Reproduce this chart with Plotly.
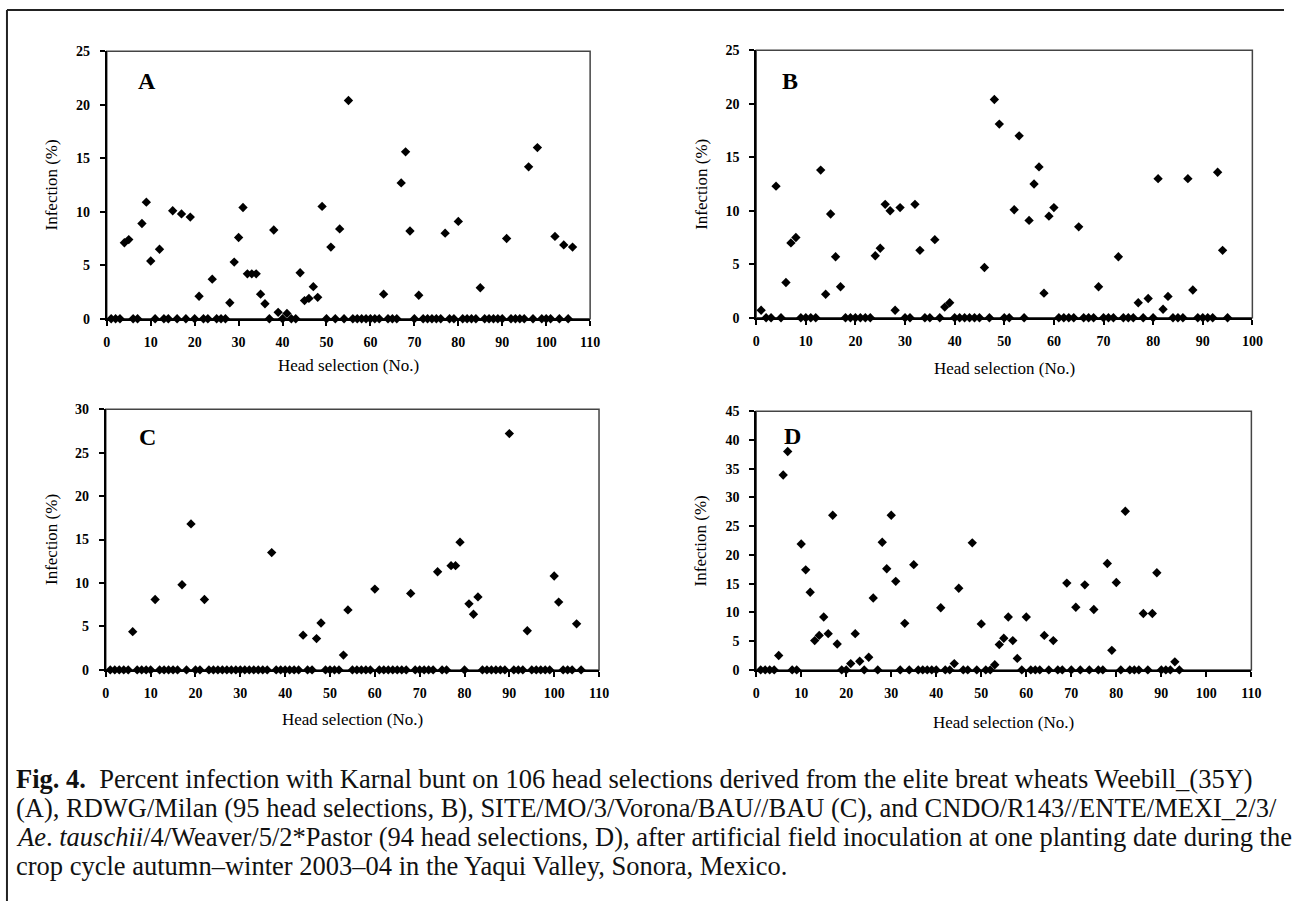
import plotly.graph_objects as go

W, H = 1295, 909

# ---------------- data (percent infection per head selection) ----------------
a_infection = [0, 0, 0, 7.1, 7.4, 0, 0, 8.9, 10.9, 5.4,
               0, 6.5, 0, 0, 10.1, 0, 9.8, 0, 9.5, 0,
               2.1, 0, 0, 3.7, 0, 0, 0, 1.5, 5.3, 7.6,
               10.4, 4.2, 4.2, 4.2, 2.3, 1.4, 0, 8.3, 0.6, 0,
               0.5, 0, 0, 4.3, 1.7, 1.9, 3.0, 2.0, 10.5, 0,
               6.7, 0, 8.4, 0, 20.4, 0, 0, 0, 0, 0,
               0, 0, 2.3, 0, 0, 0, 12.7, 15.6, 8.2, 0,
               2.2, 0, 0, 0, 0, 0, 8.0, 0, 0, 9.1,
               0, 0, 0, 0, 2.9, 0, 0, 0, 0, 0,
               7.5, 0, 0, 0, 0, 14.2, 0, 16.0, 0, 0,
               0, 7.7, 0, 6.9, 0, 6.7]

b_infection = [0.7, 0, 0, 12.3, 0, 3.3, 7.0, 7.5, 0, 0,
               0, 0, 13.8, 2.2, 9.7, 5.7, 2.9, 0, 0, 0,
               0, 0, 0, 5.8, 6.5, 10.6, 10.0, 0.7, 10.3, 0,
               0, 10.6, 6.3, 0, 0, 7.3, 0, 1.0, 1.4, 0,
               0, 0, 0, 0, 0, 4.7, 0, 20.4, 18.1, 0,
               0, 10.1, 17.0, 0, 9.1, 12.5, 14.1, 2.3, 9.5, 10.3,
               0, 0, 0, 0, 8.5, 0, 0, 0, 2.9, 0,
               0, 0, 5.7, 0, 0, 0, 1.4, 0, 1.8, 0,
               13.0, 0.8, 2.0, 0, 0, 0, 13.0, 2.6, 0, 0,
               0, 0, 13.6, 6.3, 0]

c_infection = [0, 0, 0, 0, 0, 4.4, 0, 0, 0, 0,
               8.1, 0, 0, 0, 0, 0, 9.8, 0, 16.8, 0,
               0, 8.1, 0, 0, 0, 0, 0, 0, 0, 0,
               0, 0, 0, 0, 0, 0, 13.5, 0, 0, 0,
               0, 0, 0, 4.0, 0, 0, 3.6, 5.4, 0, 0,
               0, 0, 1.7, 6.9, 0, 0, 0, 0, 0, 9.3,
               0, 0, 0, 0, 0, 0, 0, 8.8, 0, 0,
               0, 0, 0, 11.3, 0, 0, 12.0, 12.0, 14.7, 0,
               7.6, 6.4, 8.4, 0, 0, 0, 0, 0, 0, 27.2,
               0, 0, 0, 4.5, 0, 0, 0, 0, 0, 10.8,
               7.8, 0, 0, 0, 5.3, 0]

d_infection = [0, 0, 0, 0, 2.5, 33.9, 38.0, 0, 0, 21.9,
               17.4, 13.5, 5.1, 6.0, 9.2, 6.3, 26.9, 4.5, 0, 0,
               1.1, 6.3, 1.5, 0, 2.2, 12.5, 0, 22.2, 17.6, 26.9,
               15.4, 0, 8.1, 0, 18.3, 0, 0, 0, 0, 0,
               10.8, 0, 0, 1.1, 14.2, 0, 0, 22.1, 0, 8.0,
               0, 0, 0.9, 4.4, 5.5, 9.2, 5.1, 2.0, 0, 9.2,
               0, 0, 0, 6.0, 0, 5.1, 0, 0, 15.1, 0,
               10.9, 0, 14.8, 0, 10.5, 0, 0, 18.5, 3.4, 15.2,
               0, 27.6, 0, 0, 0, 9.8, 0, 9.8, 16.9, 0,
               0, 0, 1.4, 0]

panel_letters = ["A", "B", "C", "D"]
x_max = [110, 100, 110, 110]
y_max = [25, 25, 30, 45]
x_title = "Head selection (No.)"
y_title = "Infection (%)"

caption_lines = [
    "<b>Fig. 4.</b>  Percent infection with Karnal bunt on 106 head selections derived from the elite breat wheats Weebill_(35Y)",
    "(A), RDWG/Milan (95 head selections, B), SITE/MO/3/Vorona/BAU//BAU (C), and CNDO/R143//ENTE/MEXI_2/3/",
    "<i>Ae</i>. <i>tauschii</i>/4/Weaver/5/2*Pastor (94 head selections, D), after artificial field inoculation at one planting date during the",
    "crop cycle autumn\u2013winter 2003\u201304 in the Yaqui Valley, Sonora, Mexico.",
]

series = [a_infection, b_infection, c_infection, d_infection]

# ---------------- layout geometry (pixels) ----------------
boxes = [  # left, top, right, bottom
    (104, 45, 593, 317),
    (761, 44, 1263, 316),
    (103, 409, 602, 674),
    (761, 411, 1262, 674),
]
ytitle_x = [48, 705, 48, 705]
xtitle_y = [365, 368, 724, 727]
letter_pos = [(145, 75), (795, 75), (145, 437), (798, 436)]
caption_y = [785, 814.5, 844, 873.5]

def px(x):
    return x / W

def py(y):
    return 1 - y / H

SERIF = "Liberation Serif"

fig = go.Figure()
annotations = []
shapes = []

for i, vals in enumerate(series):
    n = i + 1
    xa = "x" if n == 1 else f"x{n}"
    ya = "y" if n == 1 else f"y{n}"
    sel = list(range(1, len(vals) + 1))
    fig.add_trace(go.Scatter(
        x=sel, y=vals, mode="markers", xaxis=xa, yaxis=ya,
        marker=dict(symbol="diamond", size=7.2, color="black"),
        cliponaxis=False, showlegend=False, hoverinfo="x+y",
    ))
    l, t, r, b = boxes[i]
    common = dict(
        showgrid=False, zeroline=False, showline=True, linecolor="black",
        linewidth=2, ticks="outside", ticklen=5, tickwidth=1.5,
        tickcolor="black", mirror=False, layer="above traces",
        tickfont=dict(family=SERIF, size=14, color="black", weight="bold"),
        fixedrange=True,
    )
    fig.layout[f"xaxis{'' if n == 1 else n}"] = dict(
        domain=[px(l), px(r)], range=[0, x_max[i]], dtick=10, tick0=0,
        anchor=ya, ticklabelstandoff=4, **common)
    fig.layout[f"yaxis{'' if n == 1 else n}"] = dict(
        domain=[py(b), py(t)], range=[0, y_max[i]], dtick=5, tick0=0,
        anchor=xa, ticklabelstandoff=7, **common)
    shapes.append(dict(type="rect", xref="paper", yref="paper",
                       x0=px(l), x1=px(r), y0=py(b), y1=py(t),
                       line=dict(color="#444", width=1.5), layer="below"))
    annotations.append(dict(text=y_title, x=px(ytitle_x[i]), y=py((t + b) / 2),
                            xref="paper", yref="paper", showarrow=False,
                            textangle=-90, xanchor="center", yanchor="middle",
                            font=dict(family=SERIF, size=17, color="black")))
    annotations.append(dict(text=x_title, x=px((l + r) / 2), y=py(xtitle_y[i]),
                            xref="paper", yref="paper", showarrow=False,
                            xanchor="center", yanchor="middle",
                            font=dict(family=SERIF, size=17, color="black")))
    lx, ly = letter_pos[i]
    annotations.append(dict(text=f"<b>{panel_letters[i]}</b>", x=px(lx), y=py(ly),
                            xref="paper", yref="paper", showarrow=False,
                            xanchor="center", yanchor="middle",
                            font=dict(family=SERIF, size=24, color="black")))

for k, line in enumerate(caption_lines):
    annotations.append(dict(text=line, x=px(10), y=py(caption_y[k]),
                            xref="paper", yref="paper", showarrow=False,
                            xanchor="left", yanchor="middle", align="left",
                            font=dict(family=SERIF, size=26.5, color="#111")))

# outer figure frame (left and top edges visible)
shapes.append(dict(type="line", xref="paper", yref="paper",
                   x0=px(3), x1=1, y0=py(3), y1=py(3),
                   line=dict(color="#222", width=2)))
shapes.append(dict(type="line", xref="paper", yref="paper",
                   x0=px(3), x1=px(3), y0=py(3), y1=0,
                   line=dict(color="#222", width=2)))

fig.update_layout(
    width=W, height=H, autosize=False,
    margin=dict(l=0, r=0, t=0, b=0, pad=0),
    paper_bgcolor="white", plot_bgcolor="white",
    annotations=annotations, shapes=shapes,
    font=dict(family=SERIF, color="black"),
)

fig.write_html(
    "out.html", config={"displayModeBar": False},
    post_script=("document.body.style.margin='0';"
                 "document.body.style.overflow='hidden';"))
